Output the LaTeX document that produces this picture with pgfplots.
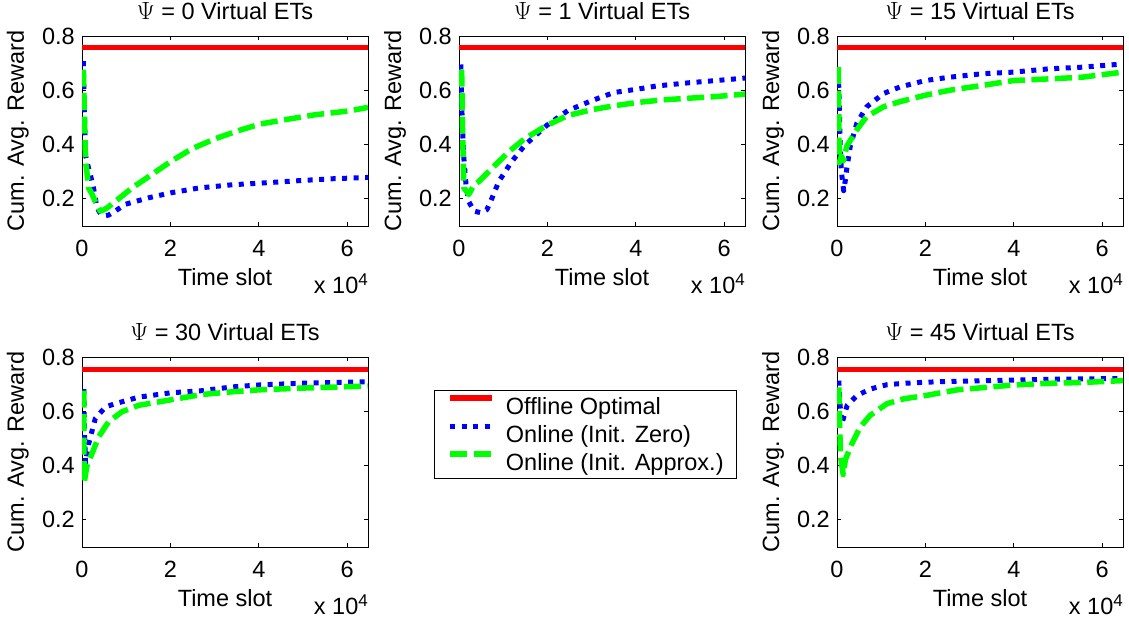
\documentclass[border=0pt]{standalone}
\usepackage{fontspec}
\setmainfont{Liberation Sans}
\usepackage{pgfplots}
\pgfplotsset{compat=1.18}
\pgfplotsset{
  panel/.style={
    scale only axis, width=286pt, height=190pt,
    xmin=0, xmax=6.47, ymin=0.1, ymax=0.8,
    xtick={0,2,4,6}, ytick={0.2,0.4,0.6,0.8},
    tick align=inside, tick pos=both, major tick length=4pt,
    axis line style={line width=0.8pt},
    every tick/.style={line width=0.8pt, black},
    font=\fontsize{23.5}{28}\selectfont,
    /pgf/number format/assume math mode=true,
    scaled ticks=false,
    yticklabel style={/pgf/number format/fixed, /pgf/number format/fixed zerofill, /pgf/number format/precision=1, inner sep=0pt, anchor=east, xshift=-7pt},
    xticklabel style={inner sep=0pt, anchor=north, yshift=-14pt},
    xlabel={Time slot}, ylabel={Cum. Avg. Reward},
    xlabel style={at={(axis description cs:0.5,0)}, anchor=north, inner sep=0pt, yshift=-42pt},
    ylabel style={at={(axis description cs:-0.2028,0.5)}, anchor=base, inner sep=0pt},
    title style={at={(axis description cs:0.5,1)}, anchor=base, inner sep=0pt, yshift=11pt},
    legend image code/.code={\draw[#1] (0pt,8.4pt) -- (42pt,8.4pt);},
  },
  offline/.style={color=red, line width=5.5pt},
  zero/.style={color=blue, line width=5pt, line join=round, dash pattern=on 5pt off 6.5pt},
  approx/.style={color=green, line width=5.5pt, line join=round, dash pattern=on 17pt off 6.5pt},
}
\newcommand{\xten}{x 10\raisebox{8pt}{\fontsize{17}{17}\selectfont 4}}
\begin{document}
\begin{tikzpicture}
\useasboundingbox (0pt,0pt) rectangle (1129pt,-624pt);

% Panel 1
\begin{axis}[panel, name=p1, at={(82pt,-226pt)}, anchor=south west, title={$\Psi$ = 0 Virtual ETs}]
\addplot[offline] coordinates {(0,0.757) (6.47,0.757)};
\addplot[zero] coordinates {(0.03,0.707) (0.05,0.55) (0.08,0.36) (0.11,0.337) (0.19,0.288) (0.26,0.24) (0.34,0.167) (0.42,0.145) (0.49,0.137) (0.6,0.14) (0.75,0.155) (0.98,0.18) (1.51,0.204) (2,0.222) (2.64,0.24) (3.4,0.252) (4.04,0.258) (4.9,0.267) (5.66,0.274) (6.47,0.279)};
\addplot[approx] coordinates {(0.03,0.676) (0.05,0.55) (0.07,0.40) (0.08,0.337) (0.11,0.30) (0.15,0.24) (0.22,0.22) (0.3,0.19) (0.41,0.155) (0.5,0.16) (0.57,0.167) (0.75,0.19) (1.13,0.24) (1.51,0.282) (2,0.337) (2.49,0.385) (3.02,0.422) (3.55,0.452) (4.04,0.476) (4.53,0.49) (5.28,0.51) (6.04,0.524) (6.47,0.537)};
\end{axis}

% Panel 2
\begin{axis}[panel, name=p2, at={(459pt,-226pt)}, anchor=south west, title={$\Psi$ = 1 Virtual ETs}]
\addplot[offline] coordinates {(0,0.757) (6.47,0.757)};
\addplot[zero] coordinates {(0.04,0.695) (0.07,0.50) (0.11,0.349) (0.16,0.25) (0.22,0.19) (0.34,0.155) (0.49,0.149) (0.63,0.16) (0.75,0.204) (0.9,0.264) (1.19,0.337) (1.49,0.398) (1.98,0.47) (2.46,0.525) (2.99,0.561) (3.51,0.592) (4.03,0.604) (4.48,0.616) (5.22,0.628) (5.97,0.638) (6.47,0.645)};
\addplot[approx] coordinates {(0.06,0.676) (0.08,0.45) (0.11,0.24) (0.16,0.23) (0.22,0.216) (0.34,0.252) (0.45,0.264) (0.75,0.313) (1.12,0.373) (1.49,0.422) (1.98,0.47) (2.46,0.507) (2.99,0.528) (3.51,0.543) (4.03,0.555) (4.63,0.565) (5.22,0.571) (5.82,0.577) (6.47,0.586)};
\end{axis}

% Panel 3
\begin{axis}[panel, name=p3, at={(837pt,-226pt)}, anchor=south west, title={$\Psi$ = 15 Virtual ETs}]
\addplot[offline] coordinates {(0,0.757) (6.47,0.757)};
\addplot[zero] coordinates {(0.03,0.67) (0.05,0.55) (0.07,0.40) (0.1,0.30) (0.15,0.23) (0.2,0.28) (0.22,0.31) (0.3,0.394) (0.45,0.479) (0.67,0.539) (1.05,0.588) (1.42,0.612) (2,0.636) (2.54,0.648) (3.29,0.661) (4,0.667) (4.79,0.679) (5.53,0.685) (6.47,0.697)};
\addplot[approx] coordinates {(0.03,0.685) (0.04,0.5) (0.05,0.333) (0.1,0.358) (0.15,0.34) (0.22,0.394) (0.45,0.455) (0.67,0.503) (1.05,0.539) (1.42,0.558) (2,0.582) (2.54,0.60) (3.29,0.618) (4,0.636) (4.79,0.642) (5.53,0.648) (6.47,0.667)};
\end{axis}

% Panel 4
\begin{axis}[panel, name=p4, at={(82pt,-547pt)}, anchor=south west, title={$\Psi$ = 30 Virtual ETs},
  legend style={at={(axis description cs:1.2308,0.826)}, anchor=north west,
    draw=black, line width=0.8pt, fill=white, inner xsep=13pt, inner ysep=2pt,
    font=\fontsize{23.5}{28}\selectfont,
    nodes={inner sep=0pt, text height=22pt, text depth=6pt},
    column sep=11pt, row sep=0pt},
  legend cell align=left]
\addplot[offline] coordinates {(0,0.754) (6.47,0.754)};
\addlegendentry{Offline Optimal}
\addplot[zero] coordinates {(0.04,0.682) (0.06,0.50) (0.08,0.41) (0.15,0.48) (0.3,0.573) (0.53,0.616) (0.75,0.628) (1.28,0.652) (2,0.668) (2.72,0.676) (3.41,0.69) (4,0.697) (4.9,0.703) (5.66,0.706) (6.47,0.709)};
\addlegendentry{Online (Init. Zero)}
\addplot[approx] coordinates {(0.04,0.676) (0.04,0.50) (0.05,0.337) (0.11,0.398) (0.23,0.446) (0.38,0.507) (0.6,0.561) (0.9,0.598) (1.28,0.622) (2,0.642) (2.72,0.662) (3.41,0.672) (4,0.679) (4.9,0.685) (5.66,0.689) (6.47,0.693)};
\addlegendentry{Online (Init. Approx.)}
\end{axis}

% Panel 5
\begin{axis}[panel, name=p5, at={(837pt,-547pt)}, anchor=south west, title={$\Psi$ = 45 Virtual ETs}]
\addplot[offline] coordinates {(0,0.754) (6.47,0.754)};
\addplot[zero] coordinates {(0.04,0.713) (0.07,0.62) (0.11,0.555) (0.23,0.622) (0.45,0.658) (0.75,0.682) (1.13,0.698) (1.51,0.703) (2,0.707) (2.49,0.71) (4,0.715) (4.79,0.718) (6.47,0.721)};
\addplot[approx] coordinates {(0.04,0.688) (0.06,0.55) (0.08,0.434) (0.14,0.367) (0.19,0.422) (0.34,0.482) (0.53,0.543) (0.75,0.585) (1.13,0.628) (1.51,0.646) (2,0.658) (2.72,0.679) (3.29,0.687) (4,0.697) (4.79,0.703) (5.53,0.706) (6.47,0.713)};
\end{axis}

\foreach \p in {p1,p2,p3,p4,p5}{
  \node[anchor=base east, inner sep=0pt, font=\fontsize{23.5}{28}\selectfont] at ([yshift=-67pt]\p.south east) {\xten};
}
\end{tikzpicture}
\end{document}
